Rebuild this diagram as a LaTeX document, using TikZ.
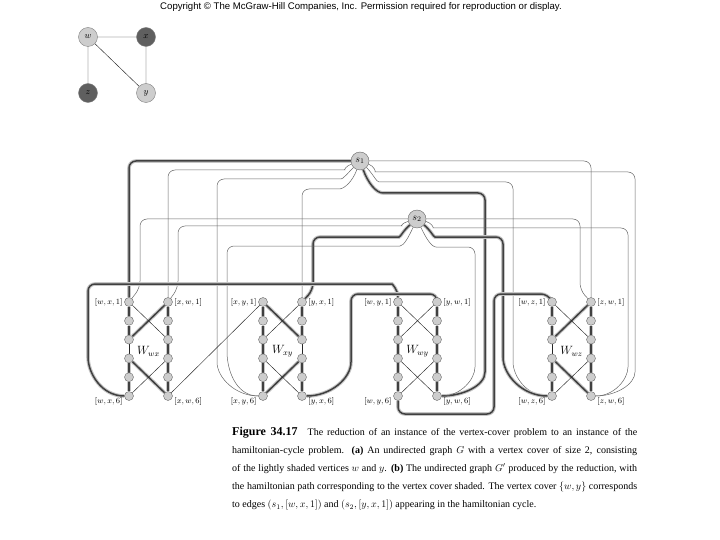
\documentclass[tikz,border=0pt]{standalone}
\usepackage{fontspec}
\setmainfont{Liberation Serif}
\newfontfamily\hdrfont{Liberation Sans}
\usetikzlibrary{backgrounds}
\definecolor{ShadeLight}{RGB}{205,205,205}
\definecolor{ShadeDark}{RGB}{95,95,95}

\tikzset{
  vtx/.style={circle, draw=black!60, fill=ShadeLight, inner sep=0pt, minimum size=9pt},
  gvtx/.style={circle, draw=black!50, inner sep=0pt, minimum size=19pt, font=\small},
  lbl/.style={font=\footnotesize, inner sep=1.5pt},
  link/.style={black!85, line width=0.45pt},
  wire/.style={black!60, line width=0.5pt, rounded corners=7pt},
  tour/.style={black!75, line width=1.5pt, rounded corners=7pt,
    preaction={draw, gray!45, line width=3.6pt}},
}

\begin{document}
\begin{tikzpicture}[x=1pt, y=-1pt]
    \useasboundingbox (0,0) rectangle (720,540);

    % Header
    \node[font=\hdrfont\fontsize{9.6}{11}\selectfont] (hdr) at (361,7)
      {Copyright © The McGraw-Hill Companies, Inc. Permission required for reproduction or display.};

    % Graph G
    \node[gvtx, fill=ShadeLight] (gw) at (88,37) {$w$};
    \node[gvtx, fill=ShadeDark]  (gx) at (146,37) {$x$};
    \node[gvtx, fill=ShadeDark]  (gz) at (88,93) {$z$};
    \node[gvtx, fill=ShadeLight] (gy) at (146,93) {$y$};
    \draw[link] (gw) -- (gx) (gw) -- (gz) (gw) -- (gy) (gx) -- (gy);

    % Selector vertices
    \node[vtx, minimum size=18pt] (s1) at (360,161) {$s_1$};
    \node[vtx, minimum size=18pt] (s2) at (417,219) {$s_2$};

    % Widgets
    \foreach \L/\R/\cx/\a/\b in {wx/xw/129/w/x, xy/yx/263/x/y, wy/yw/398/w/y, wz/zw/552/w/z}{
      \foreach \i in {1,...,6}{
        \node[vtx] (\L\i) at (\cx,{302+18.8*(\i-1)}) {};
        \node[vtx] (\R\i) at (\cx+39,{302+18.8*(\i-1)}) {};
      }
      \node[font=\fontsize{11.5}{12}\selectfont] (W\L) at (\cx+19.5,351) {$W_{\a\b}$};
      \node[lbl, anchor=east] (t\L1) at (\L1.west) {$[\a,\b,1]$};
      \node[lbl, anchor=west] (t\R1) at (\R1.east) {$[\b,\a,1]$};
      \node[lbl, anchor=east] (t\L6) at ([yshift=-5pt]\L6.west) {$[\a,\b,6]$};
      \node[lbl, anchor=west] (t\R6) at ([yshift=-5pt]\R6.east) {$[\b,\a,6]$};
    }

    \begin{scope}[on background layer]
    % Wires from s1
    \draw[tour] (s1) -| (wx1);
    \draw[wire] (s1) to[out=200,in=0] (338,170) -| (xw1);
    \draw[wire] (s1) to[out=225,in=0] (334,179) -| (217,355) to[out=270,in=180] (xy6);
    \draw[wire] (s1) to[out=250,in=0] (332,189) -| (yx1);
    \draw[wire] (s1) -| (zw1);
    \draw[wire] (s1) to[out=-20,in=180] (382,172) -| (635,365) to[out=270,in=0] (zw6);
    \draw[wire] (s1) to[out=-45,in=180] (386,182) -| (513,355) to[out=270,in=180] (wz6);
    \draw[tour] (s1) to[out=-70,in=180] (390,193) -| (485,365) to[out=270,in=0] (yw6);

    % Wires from s2
    \draw[wire] (s2) -| (140,288) -- (wx1);
    \draw[wire] (s2) to[out=195,in=0] (395,226) -| (178,288) -- (xw1);
    \draw[tour] (s2) to[out=220,in=0] (392,237) -| (313,290) -- (yx1);
    \draw[wire] (s2) to[out=245,in=0] (393,246) -| (227,345) to[out=270,in=180] (xy6);
    \draw[wire] (s2) -| (580,290) -- (zw1);
    \draw[wire] (s2) to[out=-15,in=180] (440,228) -| (628,360) to[out=270,in=0] (zw6);
    \draw[tour] (s2) to[out=-40,in=180] (442,237) -| (503,350) to[out=270,in=180] (wz6);
    \draw[wire] (s2) to[out=-65,in=180] (443,247) -| (475,360) to[out=270,in=0] (yw6);

    % Links between widgets
    \draw[link] (xw6) -- (xy1);
    \draw[tour] (wx6) to[out=180,in=270] (88,350) |- (385,284) to[out=0,in=90] (wy1);
    \draw[tour] (yx6) to[out=0,in=270] (351,355) |- (437,294) -- (yw1);
    \draw[tour] (wy6) |- (494,414) |- (548,294) -- (wz1);

    % Column edges
    \foreach \c in {wx,xw,xy,yx,wy,yw,wz,zw}
      \foreach \i/\j in {1/2,2/3,4/5,5/6}
        \draw[tour] (\c\i) -- (\c\j);
    \foreach \c in {xw,xy,wy,yw,zw} \draw[tour] (\c3) -- (\c4);
    \foreach \c in {wx,yx,wz} \draw[link] (\c3) -- (\c4);

    % Cross edges
    \foreach \p/\q in {wx3/xw1, wx4/xw6, xy1/yx3, xy6/yx4, wz3/zw1, wz4/zw6}
      \draw[tour] (\p) -- (\q);
    \foreach \p/\q in {wx1/xw3, wx6/xw4, xy3/yx1, xy4/yx6, wy1/yw3, wy3/yw1,
                       wy4/yw6, wy6/yw4, wz1/zw3, wz6/zw4}
      \draw[link] (\p) -- (\q);
    \end{scope}

    % Caption
    \node[anchor=north west, inner sep=0pt, align=left,
          font=\fontsize{10}{18}\selectfont] (cap) at (232,427) {%
      \makebox[405pt][s]{\textbf{\large Figure 34.17}\quad The reduction of an instance of the vertex-cover problem to an instance of the}\\
      \makebox[405pt][s]{hamiltonian-cycle problem. \textbf{(a)} An undirected graph $G$ with a vertex cover of size 2, consisting}\\
      \makebox[405pt][s]{of the lightly shaded vertices $w$ and $y$. \textbf{(b)} The undirected graph $G'$ produced by the reduction, with}\\
      \makebox[405pt][s]{the hamiltonian path corresponding to the vertex cover shaded. The vertex cover $\{w,y\}$ corresponds}\\
      to edges $(s_1,[w,x,1])$ and $(s_2,[y,x,1])$ appearing in the hamiltonian cycle.};
\end{tikzpicture}
\end{document}
